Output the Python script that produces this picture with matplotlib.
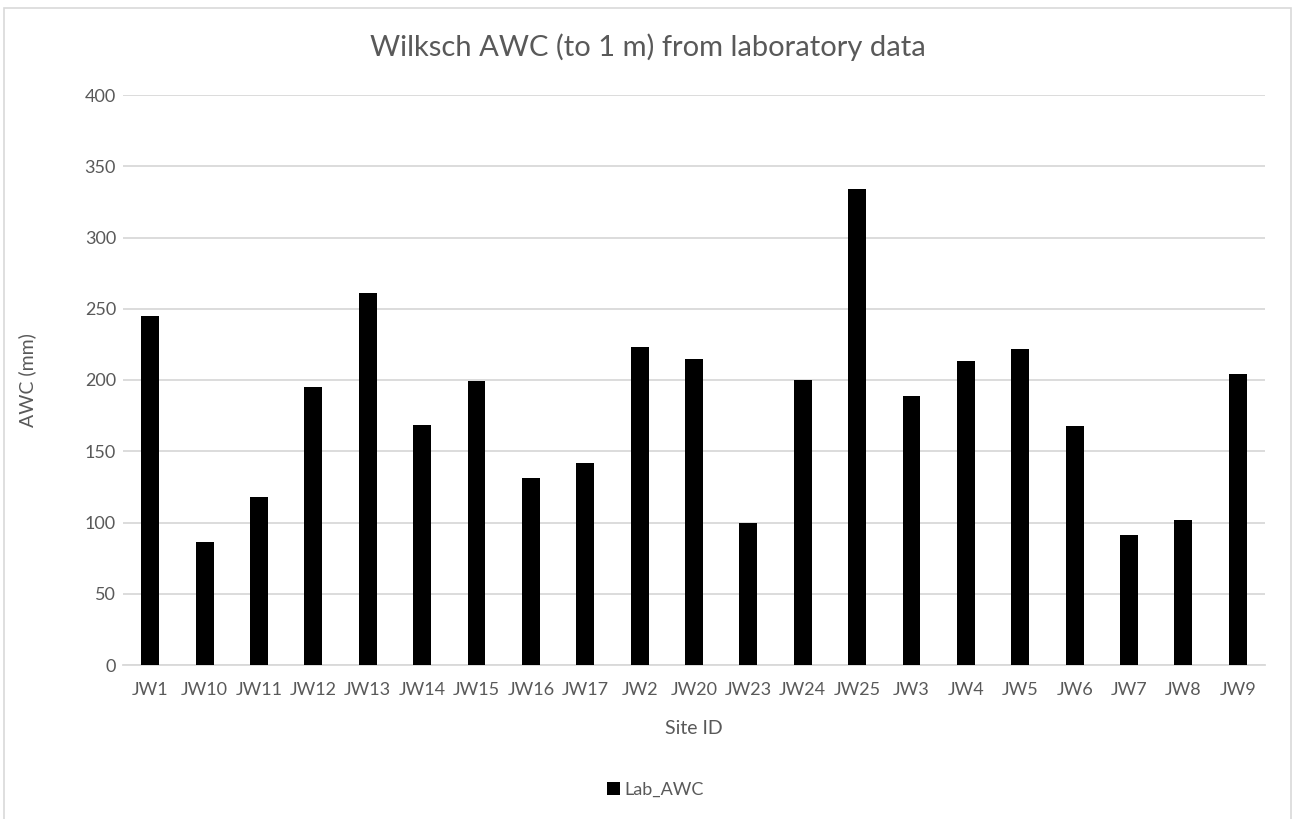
import matplotlib
matplotlib.use("Agg")
import matplotlib.pyplot as plt
from matplotlib.patches import Rectangle

sites = ["JW1", "JW10", "JW11", "JW12", "JW13", "JW14", "JW15", "JW16", "JW17", "JW2",
         "JW20", "JW23", "JW24", "JW25", "JW3", "JW4", "JW5", "JW6", "JW7", "JW8", "JW9"]
lab_awc = [245, 86, 118, 195, 261, 168.5, 199, 131, 142, 223,
           215, 100, 200, 334, 189, 213, 222, 168, 91, 102, 204]
yticks = [0, 50, 100, 150, 200, 250, 300, 350, 400]

plt.rcParams['font.family'] = ['Lato', 'DejaVu Sans']
txt = '#595959'
grid = '#d9d9d9'

fig = plt.figure(figsize=(12.96, 8.19), dpi=100)
fig.patches.append(Rectangle((0.003, -0.01), 0.993, 1.0, transform=fig.transFigure,
                             fill=False, edgecolor=grid, linewidth=1.2))
ax = fig.add_axes([123/1296, 1-665/819, (1265-123)/1296, (665-95)/819])

x = range(len(sites))
ax.bar(x, lab_awc, width=0.33, color='black', label='Lab_AWC', zorder=3)
ax.set_xlim(-0.5, len(sites)-0.5)
ax.set_ylim(0, 400)
ax.set_yticks(yticks)
ax.set_xticks(list(x))
ax.set_xticklabels(sites)
ax.yaxis.grid(True, color=grid, linewidth=1.3, zorder=0)
for s in ['top', 'right', 'left']:
    ax.spines[s].set_visible(False)
ax.spines['bottom'].set_color(grid)
ax.spines['bottom'].set_linewidth(1.3)
ax.tick_params(axis='both', length=0, colors=txt, labelsize=13)
ax.tick_params(axis='x', pad=12)
ax.tick_params(axis='y', pad=5)

fig.text(0.5, 1-47/819, 'Wilksch AWC (to 1 m) from laboratory data', ha='center', va='center',
         fontsize=21, color=txt)
fig.text(0.5*(123+1265)/1296, 1-729/819, 'Site ID', ha='center', va='center', fontsize=14, color=txt)
fig.text(27/1296, 1-380/819, 'AWC (mm)', ha='center', va='center', rotation=90, fontsize=14, color=txt)

leg = fig.legend(loc='center', bbox_to_anchor=(655/1296, 1-790/819), frameon=False,
                 fontsize=13, handlelength=0.75, handleheight=0.75, handletextpad=0.2)
for t in leg.get_texts():
    t.set_color(txt)

fig.savefig('out.png', dpi=100)
